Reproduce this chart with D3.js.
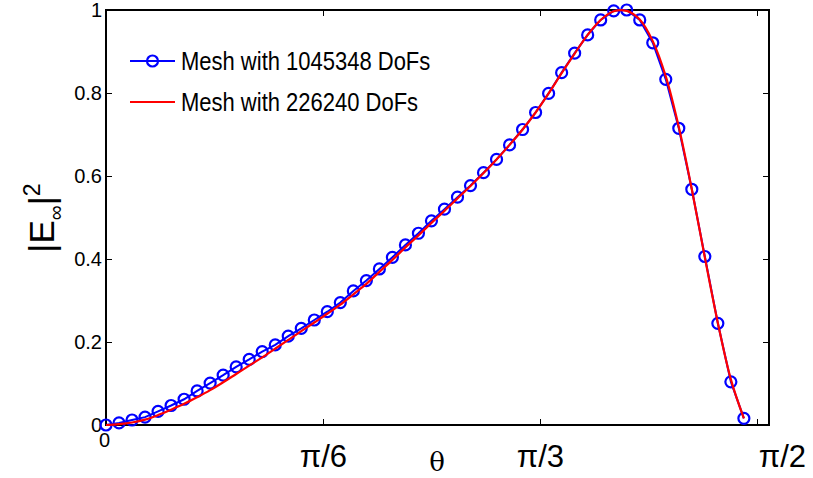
<!DOCTYPE html>
<html lang="en">
<head>
<meta charset="UTF-8">
<title>|E∞|² versus θ</title>
<style>
  body { margin: 0; background: #fff; }
  svg { display: block; font-family: "Liberation Sans", Arial, Helvetica, sans-serif; }
  .axis path, .axis line { fill: none; stroke: #000; stroke-width: 1.3; shape-rendering: crispEdges; }
</style>
</head>
<body>
<svg id="chart"></svg>
<script src="https://cdn.jsdelivr.net/npm/d3@7"></script>
<script>
// theta in degrees (axis labelled in multiples of pi)
var thetaDeg = [0, 1.8, 3.6, 5.4, 7.2, 9, 10.8, 12.6, 14.4, 16.2,
  18, 19.8, 21.6, 23.4, 25.2, 27, 28.8, 30.6, 32.4, 34.2,
  36, 37.8, 39.6, 41.4, 43.2, 45, 46.8, 48.6, 50.4, 52.2,
  54, 55.8, 57.6, 59.4, 61.2, 63, 64.8, 66.6, 68.4, 70.2,
  72, 73.8, 75.6, 77.4, 79.2, 81, 82.8, 84.6, 86.4, 88.2];

// fine mesh (1045348 DoFs), blue circles
var fineMesh = [0, 0.005, 0.012, 0.019, 0.033, 0.047, 0.062, 0.082, 0.101, 0.12,
  0.14, 0.158, 0.177, 0.193, 0.214, 0.233, 0.253, 0.273, 0.295, 0.323,
  0.348, 0.376, 0.404, 0.434, 0.462, 0.492, 0.52, 0.549, 0.577, 0.608,
  0.64, 0.675, 0.712, 0.753, 0.799, 0.849, 0.896, 0.94, 0.976, 0.998,
  1.0, 0.976, 0.921, 0.833, 0.715, 0.568, 0.406, 0.245, 0.104, 0.016];

// coarse mesh (226240 DoFs), red line
var coarseMesh = [0, 0.002, 0.006, 0.013, 0.024, 0.037, 0.051, 0.067, 0.084, 0.103,
  0.123, 0.143, 0.163, 0.184, 0.205, 0.226, 0.247, 0.268, 0.29, 0.315,
  0.34, 0.369, 0.398, 0.428, 0.457, 0.487, 0.516, 0.546, 0.576, 0.607,
  0.64, 0.675, 0.712, 0.753, 0.799, 0.848, 0.895, 0.94, 0.976, 0.997,
  0.998, 0.977, 0.925, 0.84, 0.718, 0.568, 0.404, 0.246, 0.11, 0.016];

var seriesNames = ["Mesh with 1045348 DoFs", "Mesh with 226240 DoFs"];

var xTicks = [0, 30, 60, 90];
var xTickLabels = ["0", "\u03C0/6", "\u03C0/3", "\u03C0/2"];
var yTicks = [0, 0.2, 0.4, 0.6, 0.8, 1];

var width = 813, height = 478;
var margin = { top: 10, right: 44, bottom: 53, left: 106 };
var plotW = width - margin.left - margin.right,
    plotH = height - margin.top - margin.bottom;

var svg = d3.select("#chart").attr("width", width).attr("height", height);
var g = svg.append("g").attr("transform", "translate(" + margin.left + "," + margin.top + ")");

// 1.6 rad upper limit, in degrees
var x = d3.scaleLinear().domain([0, 1.6 * 180 / Math.PI]).range([0, plotW]);
var y = d3.scaleLinear().domain([0, 1]).range([plotH, 0]);

// box with inward ticks on all sides
g.append("rect").attr("width", plotW).attr("height", plotH)
  .attr("fill", "none").attr("stroke", "#000").attr("stroke-width", 1.3)
  .attr("shape-rendering", "crispEdges");

var xAxis = g.append("g").attr("class", "axis")
  .attr("transform", "translate(0," + plotH + ")")
  .call(d3.axisBottom(x).tickValues(xTicks).tickSizeInner(-6).tickSizeOuter(0)
    .tickFormat(function(d, i) { return xTickLabels[i]; }));
xAxis.select(".domain").remove();
xAxis.selectAll("text").attr("fill", "#000").attr("font-family", null)
  .style("font-size", function(d) { return d === 0 ? "20px" : "31px"; })
  .attr("y", function(d) { return d === 0 ? 8 : 20; })
  .attr("dx", function(d) { return d === 0 ? -2 : (d === 90 ? 25 : 0); });

g.append("g").attr("class", "axis")
  .call(d3.axisTop(x).tickValues(xTicks).tickSizeInner(-6).tickSizeOuter(0).tickFormat(""))
  .select(".domain").remove();

var yAxis = g.append("g").attr("class", "axis")
  .call(d3.axisLeft(y).tickValues(yTicks).tickSizeInner(-6).tickSizeOuter(0)
    .tickFormat(d3.format("")));
yAxis.select(".domain").remove();
yAxis.selectAll("text").attr("fill", "#000").attr("font-family", null)
  .style("font-size", "20px").attr("x", -4);

g.append("g").attr("class", "axis")
  .attr("transform", "translate(" + plotW + ",0)")
  .call(d3.axisRight(y).tickValues(yTicks).tickSizeInner(-6).tickSizeOuter(0).tickFormat(""))
  .select(".domain").remove();

// axis titles
svg.append("text")
  .attr("x", 437).attr("y", 471)
  .attr("text-anchor", "middle")
  .style("font-size", "26px").style("font-family", "'DejaVu Serif', serif")
  .text("\u03B8");

var yl = svg.append("text")
  .attr("transform", "translate(54,218) rotate(-90)")
  .attr("text-anchor", "middle")
  .style("font-size", "35px");
yl.append("tspan").text("|E");
yl.append("tspan").attr("dy", 9).style("font-size", "21px").text("\u221E");
yl.append("tspan").attr("dy", -9).text("|");
yl.append("tspan").attr("dy", -14).style("font-size", "23px").text("2");

// series
var fineData = thetaDeg.map(function(t, i) { return [t, fineMesh[i]]; });
var coarseData = thetaDeg.map(function(t, i) { return [t, coarseMesh[i]]; });

var line = d3.line().x(function(d) { return x(d[0]); }).y(function(d) { return y(d[1]); });

g.append("path").datum(fineData)
  .attr("fill", "none").attr("stroke", "#0000ff").attr("stroke-width", 2)
  .attr("d", line);

g.selectAll("circle.fine").data(fineData).enter().append("circle")
  .attr("class", "fine")
  .attr("cx", function(d) { return x(d[0]); })
  .attr("cy", function(d) { return y(d[1]); })
  .attr("r", 5.5)
  .attr("fill", "none").attr("stroke", "#0000ff").attr("stroke-width", 2.2);

g.append("path").datum(coarseData)
  .attr("fill", "none").attr("stroke", "#ff0000").attr("stroke-width", 2.2)
  .attr("d", line.curve(d3.curveCatmullRom));

// legend
var legend = svg.append("g").attr("transform", "translate(130,61)");
legend.append("line").attr("x1", 0).attr("x2", 45).attr("y1", 0).attr("y2", 0)
  .attr("stroke", "#0000ff").attr("stroke-width", 2);
legend.append("circle").attr("cx", 22.5).attr("cy", 0).attr("r", 5.5)
  .attr("fill", "none").attr("stroke", "#0000ff").attr("stroke-width", 2.2);
legend.append("line").attr("x1", 0).attr("x2", 45).attr("y1", 41).attr("y2", 41)
  .attr("stroke", "#ff0000").attr("stroke-width", 2.2);
legend.selectAll("text.leg").data(seriesNames).enter().append("text")
  .attr("class", "leg")
  .attr("transform", function(d, i) { return "translate(51," + (i * 41) + ") scale(0.88,1)"; })
  .attr("dy", "0.35em")
  .style("font-size", "25px")
  .text(function(d) { return d; });
</script>
</body>
</html>
